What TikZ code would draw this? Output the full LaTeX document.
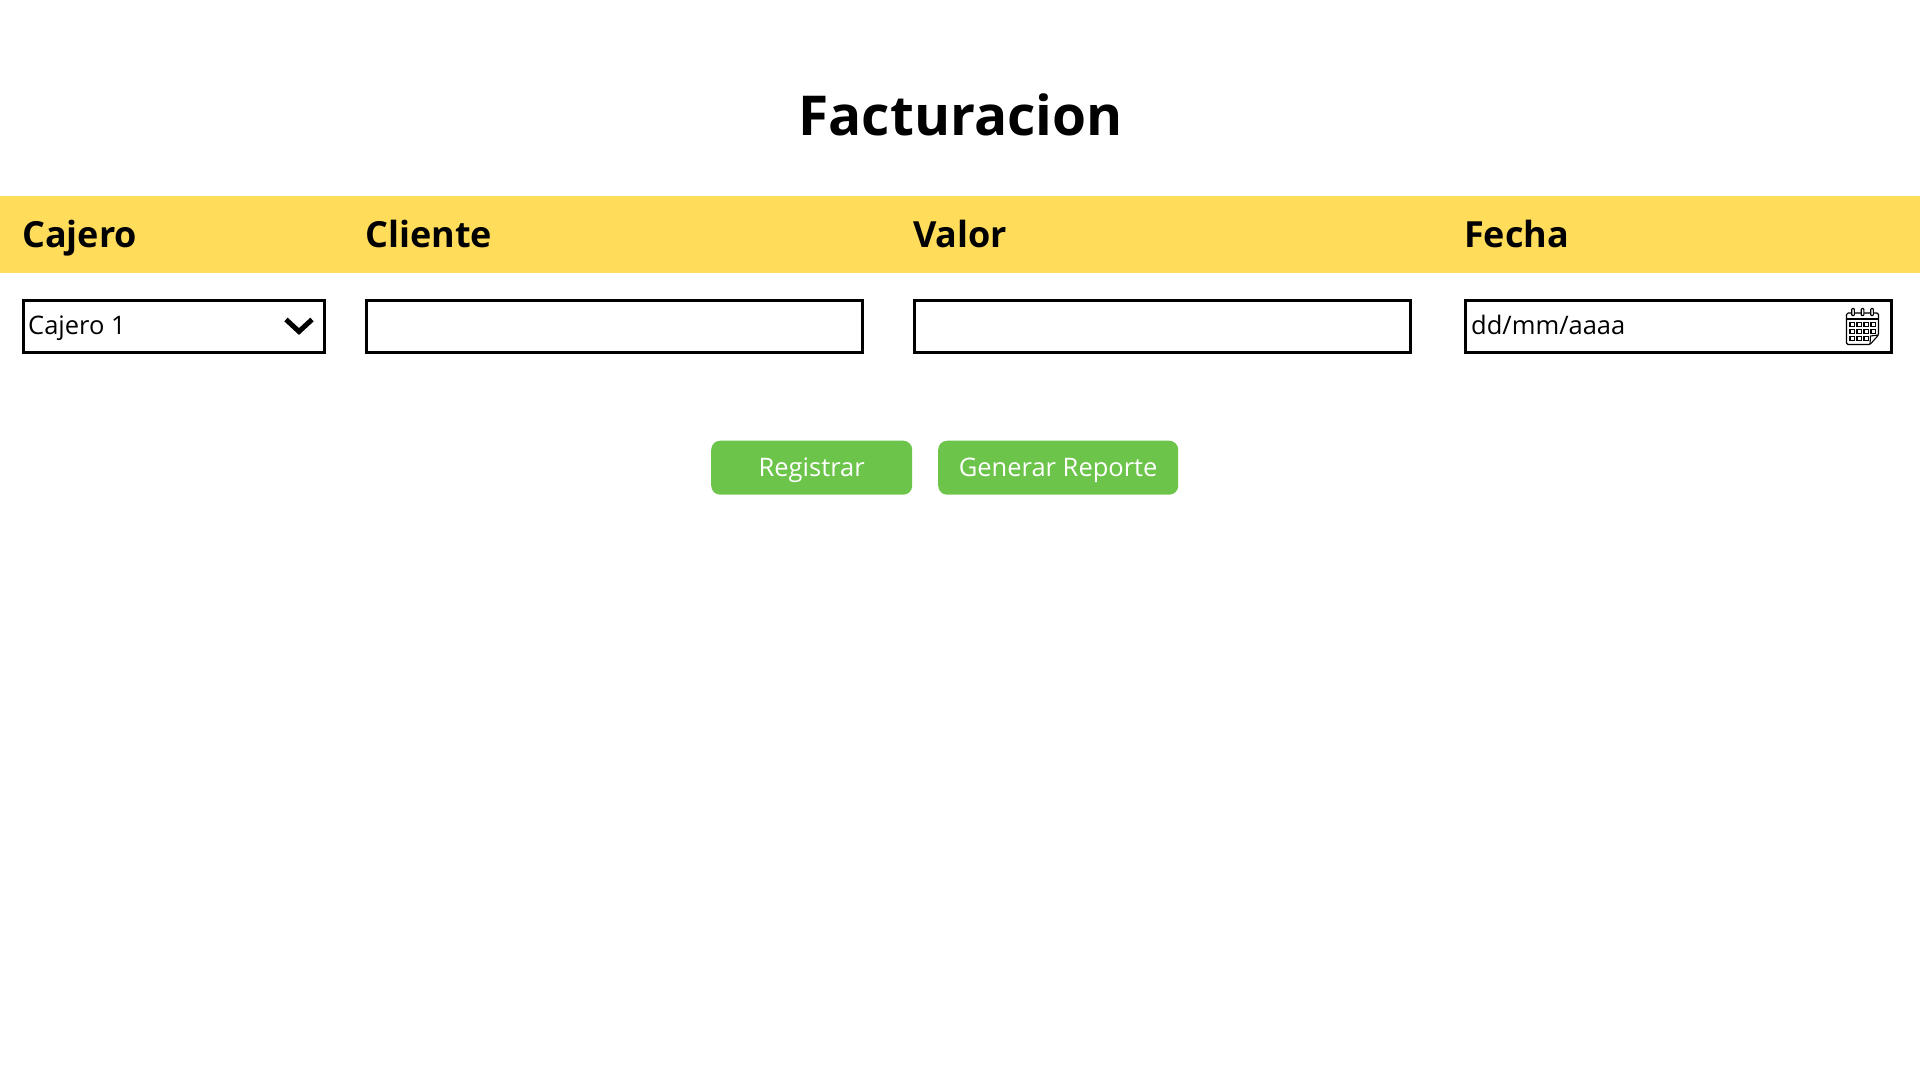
\documentclass[tikz,border=0pt]{standalone}
\usepackage{fontspec}
\setmainfont{Open Sans}
\definecolor{bandy}{HTML}{FFDC5A}
\definecolor{btng}{HTML}{6CC54A}
\tikzset{
  px/.style={x=1pt,y=-1pt},
  inputbox/.style={draw=black,line width=3.3pt,fill=white,inner sep=0pt,minimum height=52.5pt,anchor=north west},
  headlabel/.style={anchor=base west,inner sep=0pt,font=\fontsize{36}{36}\selectfont\bfseries,text=black},
  bodylabel/.style={anchor=base west,inner sep=0pt,font=\fontsize{25.5}{25.5}\selectfont,text=black},
  btn/.style={fill=btng,rounded corners=9pt,inner sep=0pt,minimum height=54pt,anchor=north west,text=white,font=\fontsize{25.5}{25.5}\selectfont,text height=17pt,text depth=0pt},
  calline/.style={draw=black,line width=1.1pt},
}
\begin{document}
\begin{tikzpicture}[px]
\useasboundingbox (0,0) rectangle (1920,1080);
\fill[white] (0,0) rectangle (1920,1080);
\fill[bandy] (0,195.5) rectangle (1920,273);
\node[anchor=base,inner sep=0pt,font=\fontsize{55}{55}\selectfont\bfseries] (title) at (960.5,135) {Facturacion};
\node[headlabel] (hcajero) at (22,247) {Cajero};
\node[headlabel] (hcliente) at (365,247) {Cliente};
\node[headlabel] (hvalor) at (913,247) {Valor};
\node[headlabel] (hfecha) at (1464,247) {Fecha};
\node[inputbox,minimum width=301pt] (icajero) at (21.5,298.5) {};
\node[inputbox,minimum width=496pt] (icliente) at (364.5,298.5) {};
\node[inputbox,minimum width=496pt] (ivalor) at (912.5,298.5) {};
\node[inputbox,minimum width=426pt] (ifecha) at (1463.5,298.5) {};
\node[bodylabel] (tcajero) at (28,334) {Cajero 1};
\node[bodylabel] (tfecha) at (1471,334) {dd/mm/aaaa};
\draw[line width=5pt,line join=miter] (286,319.5) -- (299,331.5) -- (312,319.5);
% calendar icon
\draw[calline,rounded corners=1.5pt] (1846.5,344.5) -- (1846.5,313) -- (1878.5,313) -- (1878.5,335) -- (1870,344.5) -- cycle;
\draw[calline] (1846.5,319) -- (1878.5,319);
\draw[calline] (1870,344.5) -- (1870.5,336) -- (1878.5,335);
\foreach \cx in {1853,1862.5,1872}{
  \draw[calline,fill=white,rounded corners=0.8pt] (\cx-1.3,308.5) rectangle (\cx+1.3,315.5);
}
\foreach \cy in {322.5,329.5,336.5}{
  \foreach \cx in {1850,1857,1864,1871}{
    \ifdim \cy pt>336pt \ifdim \cx pt>1870pt \else
      \draw[calline,line width=1.2pt] (\cx,\cy) rectangle ++(4.2,4.2);
    \fi \else
      \draw[calline,line width=1.2pt] (\cx,\cy) rectangle ++(4.2,4.2);
    \fi
  }
}
\node[btn,minimum width=201pt] (registrar) at (711,440.5) {Registrar};
\node[btn,minimum width=240pt] (reporte) at (938,440.5) {Generar Reporte};
\end{tikzpicture}
\end{document}
